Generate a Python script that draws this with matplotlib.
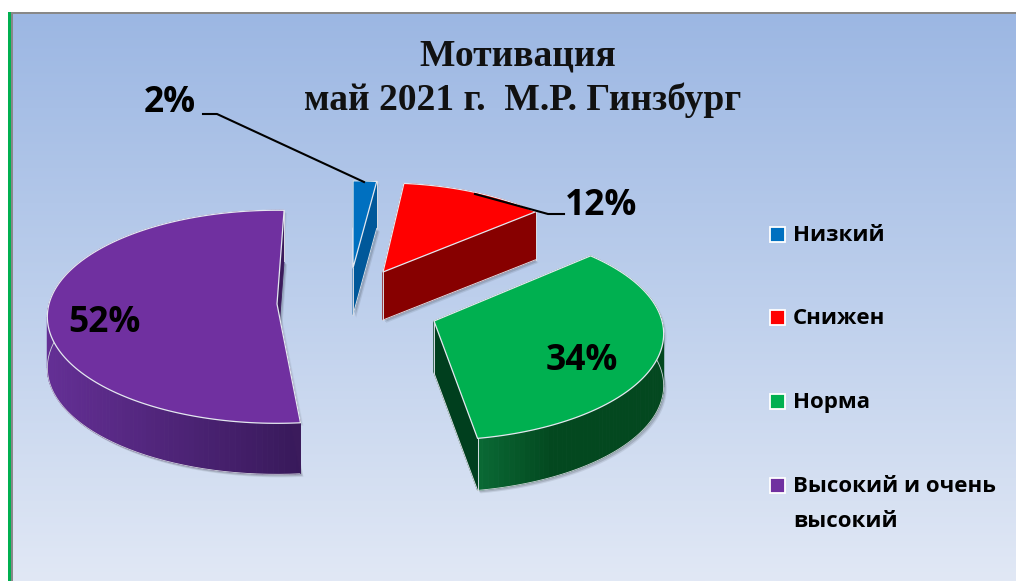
import numpy as np
import matplotlib
matplotlib.use('Agg')
from matplotlib import pyplot as plt
from matplotlib.colors import LinearSegmentedColormap, to_rgb
from matplotlib.patches import Rectangle

# data
categories = ['Низкий', 'Снижен', 'Норма', 'Высокий и очень\nвысокий']
values = [2, 12, 34, 52]
pct_labels = ['2%', '12%', '34%', '52%']
title_text = 'Мотивация \nмай 2021 г.  М.Р. Гинзбург'

# styles / layout (pixels of the 1016x581 picture)
top_colors = ['#0070c0', '#ff0000', '#00b050', '#7030a0']
side_colors = ['#00589a', '#870000', '#003f1e', '#3b1b5c']
wall_left = ['#00589a', '#870000', '#0a6a35', '#642f95']
wall_right = ['#00589a', '#870000', '#03481f', '#38195a']
apex = [(353, 268), (383, 272), (434, 321), (277, 304)]
turn = [0, -1, -2.5, 2]
scale = [0.93, 0.95, 1, 1]
depth = [47, 48, 52, 51]
label_pos = [(170, 103), (601, 206), (582, 361), (104, 323)]
legend_y = [234, 317, 401, 485]
RX, RY, K = 228, 105, 0.12

fig = plt.figure(figsize=(10.16, 5.81), dpi=100)
ax = fig.add_axes([0, 0, 1, 1])

# background
bg = LinearSegmentedColormap.from_list('bg', ['#9cb7e3', '#bdcfec', '#e1e8f5'])
ax.imshow(np.linspace(0, 1, 256).reshape(-1, 1), cmap=bg, aspect='auto',
          extent=(11, 1016, 581, 13), zorder=0)
ax.set_xlim(0, 1016)
ax.set_ylim(581, 0)
ax.axis('off')
ax.add_patch(Rectangle((8, 12), 3, 569, color='#00b050', lw=0, zorder=1))
ax.add_patch(Rectangle((11, 12), 1005, 1.5, color='#888888', lw=0, zorder=1))
ax.add_patch(Rectangle((11, 12), 1.5, 569, color='#888888', lw=0, zorder=1))


def project(a, ap, s):
    # angle in degrees clockwise from 12 o'clock -> screen position
    x, y = np.sin(np.radians(a)), np.cos(np.radians(a))
    w = 1 + K * y
    return ap[0] + s * RX * x / w, ap[1] - s * RY * y / w


def mix(c1, c2, t):
    c1, c2 = np.array(to_rgb(c1)), np.array(to_rgb(c2))
    return tuple(c1 + (c2 - c1) * t)


start = 0
for i, v in enumerate(values):
    a0 = start + turn[i]
    a1 = start + v * 3.6 + turn[i]
    start += v * 3.6
    ap = apex[i]
    d = depth[i]
    ang = np.linspace(a0, a1, max(int(v * 3), 8))
    xs, ys = project(ang, ap, scale[i])

    # soft shadow under the slice
    sx = np.r_[ap[0], xs]
    sy = np.r_[ap[1], ys]
    for off, al in [(3, 0.12), (2, 0.2)]:
        ax.fill(sx + off, sy + d + off, color='#404850', alpha=al, lw=0, zorder=2)
        ax.fill(sx + off, sy + off, color='#404850', alpha=al * 0.5, lw=0, zorder=2)

    # outer wall, one quad per step so it can carry the gradient
    x_lo, x_hi = xs.min(), xs.max()
    for j in range(len(ang) - 1):
        t = ((xs[j] + xs[j + 1]) / 2 - x_lo) / max(x_hi - x_lo, 1)
        if i == 2:
            t = min(t * 2.5, 1)
        c = mix(wall_left[i], wall_right[i], t)
        ax.fill([xs[j], xs[j + 1], xs[j + 1], xs[j]],
                [ys[j], ys[j + 1], ys[j + 1] + d, ys[j] + d],
                color=c, lw=0.6, zorder=3)
    ax.plot(xs, ys + d, color='#d0d4dc', lw=0.6, zorder=3)

    # the two cut faces, the visible one last
    for k in (0, -1):
        ax.fill([ap[0], xs[k], xs[k], ap[0]],
                [ap[1], ys[k], ys[k] + d, ap[1] + d],
                color=side_colors[i], lw=0.6, zorder=4)
    if i != 3:
        ax.plot([ap[0], xs[-1]], [ap[1] + d, ys[-1] + d], color='#d8dce4', lw=0.7, zorder=4)
        ax.plot([ap[0], ap[0]], [ap[1], ap[1] + d], color='#d8dce4', lw=0.7, zorder=4)
    ax.plot([xs[-1], xs[-1]], [ys[-1], ys[-1] + d], color='#d8dce4', lw=0.7, zorder=4)

    # top of the slice
    ax.fill(np.r_[ap[0], xs], np.r_[ap[1], ys], facecolor=top_colors[i],
            edgecolor='#e4e8f0', lw=0.9, joinstyle='round', zorder=5)

# leader lines
ax.plot([203, 217, 364], [114, 114, 182], color='black', lw=1.5, zorder=6)
ax.plot([475, 548, 564], [194, 214, 214], color='black', lw=1.5, zorder=6)

# title and labels
ax.text(523, 78, title_text, family='Liberation Serif', weight='bold', fontsize=27,
        ha='center', va='center', linespacing=1.33, color='#111111', zorder=7)
for lab, (px, py) in zip(pct_labels, label_pos):
    ax.text(px, py, lab, family=['Open Sans'], weight='bold', fontsize=25.5,
            ha='center', va='center', color='black', zorder=7)

# legend
for lab, c, ly in zip(categories, top_colors, legend_y):
    ax.add_patch(Rectangle((770, ly - 7.5), 15, 15, facecolor=c, edgecolor='white',
                           lw=1.3, zorder=7))
    ax.text(793, ly - 9, lab, family=['Open Sans'], weight='bold', fontsize=16, ha='left',
            va='top', linespacing=1.85, color='black', zorder=7)

fig.savefig('out.png', dpi=100)
